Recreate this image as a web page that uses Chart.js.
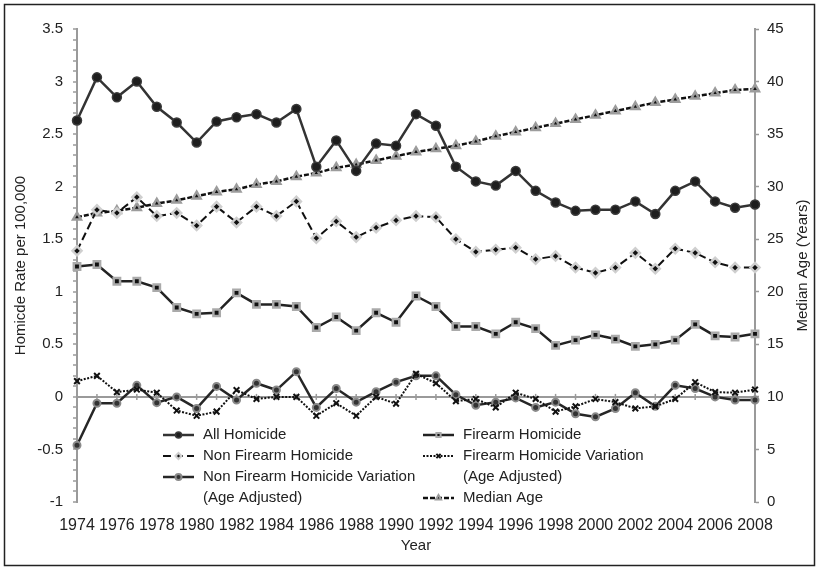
<!DOCTYPE html>
<html>
<head>
<meta charset="utf-8">
<script src="https://cdn.jsdelivr.net/npm/chart.js@4.4.1/dist/chart.umd.min.js"></script>
<style>
  html, body { margin: 0; padding: 0; background: #fff; }
  #wrap { width: 819px; height: 570px; position: relative; }
  canvas { display: block; }
</style>
</head>
<body>
<div id="wrap"><canvas id="c" width="819" height="570"></canvas></div>
<script>
const years = ['1974','1975','1976','1977','1978','1979','1980','1981','1982','1983','1984','1985',
  '1986','1987','1988','1989','1990','1991','1992','1993','1994','1995','1996','1997',
  '1998','1999','2000','2001','2002','2003','2004','2005','2006','2007','2008'];

const allHomicide = [2.63,3.04,2.85,3.00,2.76,2.61,2.42,2.62,2.66,2.69,2.61,2.74,
  2.19,2.44,2.15,2.41,2.39,2.69,2.58,2.19,2.05,2.01,2.15,1.96,
  1.85,1.77,1.78,1.78,1.86,1.74,1.96,2.05,1.86,1.80,1.83];

const firearmHomicide = [1.24,1.26,1.10,1.10,1.04,0.85,0.79,0.80,0.99,0.88,0.88,0.86,
  0.66,0.76,0.63,0.80,0.71,0.96,0.86,0.67,0.67,0.60,0.71,0.65,
  0.49,0.54,0.59,0.55,0.48,0.50,0.54,0.69,0.58,0.57,0.60];

const nonFirearmHomicide = [1.39,1.78,1.75,1.90,1.72,1.75,1.63,1.81,1.66,1.81,1.72,1.86,
  1.51,1.67,1.52,1.61,1.68,1.72,1.71,1.50,1.38,1.40,1.42,1.31,
  1.34,1.23,1.18,1.23,1.37,1.22,1.41,1.37,1.28,1.23,1.23];

const firearmVariation = [0.15,0.20,0.045,0.07,0.04,-0.13,-0.18,-0.14,0.065,-0.02,0.00,0.00,
  -0.18,-0.06,-0.18,0.00,-0.065,0.22,0.13,-0.04,-0.02,-0.10,0.04,-0.02,
  -0.14,-0.09,-0.02,-0.05,-0.11,-0.09,-0.02,0.14,0.045,0.04,0.07];

const nonFirearmVariation = [-0.46,-0.06,-0.06,0.11,-0.055,0.00,-0.11,0.10,-0.03,0.13,0.065,0.24,
  -0.10,0.08,-0.05,0.05,0.14,0.20,0.20,0.02,-0.08,-0.05,-0.01,-0.10,
  -0.05,-0.16,-0.19,-0.11,0.04,-0.09,0.11,0.08,0.00,-0.03,-0.03];

const medianAge = [27.1,27.5,27.7,28.0,28.4,28.7,29.1,29.5,29.75,30.2,30.5,30.95,
  31.3,31.8,32.1,32.5,32.9,33.3,33.6,33.9,34.3,34.8,35.2,35.6,
  36.0,36.4,36.8,37.2,37.6,38.0,38.3,38.6,38.9,39.2,39.3];

const seriesNames = ['All Homicide','Firearm Homicide','Non Firearm Homicide',
  'Firearm Homicide Variation (Age Adjusted)','Non Firearm Homicide Variation (Age Adjusted)','Median Age'];

const leftTitle = 'Homicde Rate per 100,000';
const rightTitle = 'Median Age (Years)';
const xTitle = 'Year';

const FONT = "'Liberation Sans', Arial, sans-serif";
const TXT = '#222';
const AXIS = '#9a9a9a';

const datasets = [
  { label: seriesNames[0], data: allHomicide, yAxisID: 'y',
    borderColor: '#333', borderWidth: 2.5, pointStyle: 'circle', pointRadius: 4.5,
    pointBackgroundColor: '#1e1e1e', pointBorderColor: '#3a3a3a', pointBorderWidth: 1.5 },
  { label: seriesNames[1], data: firearmHomicide, yAxisID: 'y',
    borderColor: '#222', borderWidth: 2.5, pointStyle: 'rect', pointRadius: 4.5,
    pointBackgroundColor: '#111', pointBorderColor: '#aaa', pointBorderWidth: 2.5 },
  { label: seriesNames[2], data: nonFirearmHomicide, yAxisID: 'y',
    borderColor: '#111', borderWidth: 2, borderDash: [8, 4], pointStyle: 'rectRot', pointRadius: 4.5,
    pointBackgroundColor: '#111', pointBorderColor: '#cfcfcf', pointBorderWidth: 2.5 },
  { label: seriesNames[3], data: firearmVariation, yAxisID: 'y',
    borderColor: '#111', borderWidth: 2, borderDash: [2, 1.5], pointStyle: 'crossRot', pointRadius: 4,
    pointBackgroundColor: '#111', pointBorderColor: '#111', pointBorderWidth: 2 },
  { label: seriesNames[4], data: nonFirearmVariation, yAxisID: 'y',
    borderColor: '#262626', borderWidth: 2.5, pointStyle: 'circle', pointRadius: 3.5,
    pointBackgroundColor: '#333', pointBorderColor: '#8a8a8a', pointBorderWidth: 2 },
  { label: seriesNames[5], data: medianAge, yAxisID: 'y2',
    borderColor: '#111', borderWidth: 2.5, borderDash: [5, 2], pointStyle: 'triangle', pointRadius: 4.5,
    pointBackgroundColor: '#111', pointBorderColor: '#9c9c9c', pointBorderWidth: 2.5 }
];
datasets.forEach(d => { d.clip = false; d.tension = 0; d.fill = false; d.backgroundColor = d.pointBackgroundColor; });

const legendLayout = [
  { ds: 0, col: 0, row: 0, lines: ['All Homicide'] },
  { ds: 2, col: 0, row: 1, lines: ['Non Firearm Homicide'] },
  { ds: 4, col: 0, row: 2, lines: ['Non Firearm Homicide Variation', '(Age Adjusted)'] },
  { ds: 1, col: 1, row: 0, lines: ['Firearm Homicide'] },
  { ds: 3, col: 1, row: 1, lines: ['Firearm Homicide Variation', '(Age Adjusted)'] },
  { ds: 5, col: 1, row: 3, lines: ['Median Age'] }
];

const framePlugin = {
  id: 'frame',
  beforeDraw(chart) {
    const ctx = chart.ctx;
    ctx.save();
    ctx.fillStyle = '#fff';
    ctx.fillRect(0, 0, chart.width, chart.height);
    ctx.strokeStyle = '#222';
    ctx.lineWidth = 1.5;
    ctx.strokeRect(4.5, 4.5, 810, 561);
    ctx.restore();
  },
  beforeDatasetsDraw(chart) {
    const ctx = chart.ctx, xs = chart.scales.x, y0 = chart.scales.y.getPixelForValue(0);
    ctx.save();
    ctx.strokeStyle = AXIS;
    ctx.lineWidth = 1.5;
    for (let i = 0; i < years.length; i++) {
      const x = xs.getPixelForValue(i);
      ctx.beginPath(); ctx.moveTo(x, y0 - 3); ctx.lineTo(x, y0 + 3); ctx.stroke();
    }
    ctx.restore();
  },
  afterDraw(chart) {
    const ctx = chart.ctx;
    const area = chart.chartArea;
    ctx.save();
    ctx.fillStyle = TXT;
    ctx.font = '15px ' + FONT;
    ctx.textAlign = 'center';
    ctx.textBaseline = 'middle';
    ctx.translate(803, (area.top + area.bottom) / 2);
    ctx.rotate(-Math.PI / 2);
    ctx.fillText(rightTitle, 0, 0);
    ctx.restore();

    const colLine = [163, 423];
    const colText = [203, 463];
    const rowY = r => 435 + r * 21;
    legendLayout.forEach(item => {
      const d = chart.data.datasets[item.ds];
      const y = rowY(item.row);
      const x0 = colLine[item.col], x1 = x0 + 31;
      ctx.save();
      ctx.strokeStyle = d.borderColor;
      ctx.lineWidth = d.borderWidth;
      ctx.setLineDash(d.borderDash || []);
      ctx.beginPath(); ctx.moveTo(x0, y); ctx.lineTo(x1, y); ctx.stroke();
      ctx.setLineDash([]);
      ctx.fillStyle = d.pointBackgroundColor;
      ctx.strokeStyle = d.pointBorderColor;
      ctx.lineWidth = Math.min(d.pointBorderWidth, 2);
      if (Chart.helpers && Chart.helpers.drawPoint) {
        Chart.helpers.drawPoint(ctx, { pointStyle: d.pointStyle, radius: 3, borderWidth: ctx.lineWidth, rotation: 0 }, (x0 + x1) / 2, y);
      }
      ctx.restore();
      ctx.save();
      ctx.fillStyle = TXT;
      ctx.font = '15px ' + FONT;
      ctx.textAlign = 'left';
      ctx.textBaseline = 'middle';
      item.lines.forEach((t, k) => ctx.fillText(t, colText[item.col], y + k * 21));
      ctx.restore();
    });
  }
};

const chart = new Chart(document.getElementById('c'), {
  type: 'line',
  data: { labels: years, datasets: datasets },
  plugins: [framePlugin],
  options: {
    responsive: false,
    animation: false,
    devicePixelRatio: 1,
    layout: { padding: { top: 29, left: 0, right: 0, bottom: 0 } },
    plugins: { legend: { display: false }, tooltip: { enabled: false } },
    scales: {
      x: {
        type: 'category',
        offset: false,
        grid: { display: false },
        border: { display: false },
        ticks: {
          autoSkip: false, maxRotation: 0, minRotation: 0, padding: 6,
          color: TXT, font: { family: FONT, size: 16 },
          callback: function(v, i) { return i % 2 === 0 ? years[i] : ''; }
        },
        title: { display: true, text: xTitle, color: TXT, font: { family: FONT, size: 15 }, padding: { top: 0, bottom: 15 } },
        afterFit: s => { s.height = 68; }
      },
      y: {
        type: 'linear', position: 'left', min: -1, max: 3.5,
        ticks: {
          stepSize: 0.1, autoSkip: false, padding: 10, color: TXT, font: { family: FONT, size: 15 },
          callback: v => (Math.round(v * 10) % 5 === 0) ? String(Math.round(v * 10) / 10) : ''
        },
        grid: {
          drawOnChartArea: true, drawTicks: true, tickLength: 4,
          color: ctx => (ctx.tick && Math.abs(ctx.tick.value) < 1e-9) ? AXIS : 'rgba(0,0,0,0)',
          lineWidth: 2, tickColor: AXIS, tickWidth: 1.5
        },
        border: { display: true, color: AXIS, width: 2 },
        title: { display: true, text: leftTitle, color: TXT, font: { family: FONT, size: 15 }, padding: { top: 12, bottom: 0 } },
        afterFit: s => { s.width = 77; }
      },
      y2: {
        type: 'linear', position: 'right', min: 0, max: 45,
        ticks: { stepSize: 5, padding: 8, color: TXT, font: { family: FONT, size: 15 } },
        grid: { drawOnChartArea: false, tickLength: 4, tickColor: AXIS, tickWidth: 1.5, color: AXIS },
        border: { display: true, color: AXIS, width: 2 },
        afterFit: s => { s.width = 64; }
      }
    }
  }
});
</script>
</body>
</html>
